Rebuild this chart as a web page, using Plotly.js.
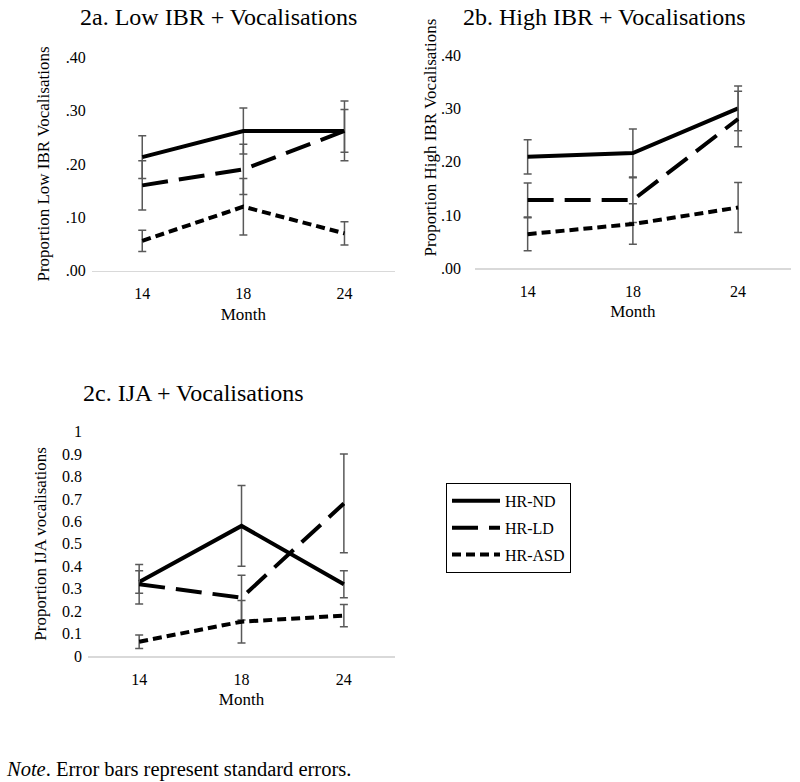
<!DOCTYPE html>
<html><head><meta charset="utf-8">
<script src="https://cdn.plot.ly/plotly-3.0.1.min.js"></script>
<style>html,body{margin:0;padding:0;background:#fff}#chart{width:800px;height:782px}</style>
</head><body><div id="chart"></div>
<script>
const months = ["14", "18", "24"];
const groups = ["HR-ND", "HR-LD", "HR-ASD"];

// 2a. Low IBR + Vocalisations
const lowND = [0.213, 0.262, 0.262];
const lowNDse = [0.040, 0.043, 0.040];
const lowLD = [0.160, 0.190, 0.262];
const lowLDse = [0.046, 0.047, 0.056];
const lowASD = [0.056, 0.120, 0.070];
const lowASDse = [0.020, 0.053, 0.022];

// 2b. High IBR + Vocalisations
const highND = [0.209, 0.216, 0.300];
const highNDse = [0.032, 0.045, 0.042];
const highLD = [0.128, 0.128, 0.280];
const highLDse = [0.032, 0.042, 0.052];
const highASD = [0.064, 0.083, 0.114];
const highASDse = [0.031, 0.038, 0.047];

// 2c. IJA + Vocalisations
const ijaND = [0.33, 0.58, 0.32];
const ijaNDse = [0.05, 0.18, 0.06];
const ijaLD = [0.32, 0.26, 0.68];
const ijaLDse = [0.088, 0.10, 0.22];
const ijaASD = [0.064, 0.153, 0.18];
const ijaASDse = [0.03, 0.095, 0.05];

const ticksLow = [0, 0.1, 0.2, 0.3, 0.4];
const ticksLowText = [".00", ".10", ".20", ".30", ".40"];
const ticksIja = [0, 0.1, 0.2, 0.3, 0.4, 0.5, 0.6, 0.7, 0.8, 0.9, 1];
const ticksIjaText = ["0", "0.1", "0.2", "0.3", "0.4", "0.5", "0.6", "0.7", "0.8", "0.9", "1"];

const FONT = "'Liberation Serif', 'Times New Roman', serif";
const dashes = ["solid", "26px,11px", "9px,5px"];

function series(name, idx, y, se, xa, ya, show) {
  return {
    type: "scatter", mode: "lines", name: name, x: months, y: y,
    xaxis: xa, yaxis: ya, showlegend: show, legendgroup: name,
    line: {color: "#000", width: 4, dash: dashes[idx]},
    error_y: {type: "data", array: se, visible: true, color: "#595959", thickness: 1.5, width: 4},
    hoverinfo: "skip"
  };
}

const data = [
  series(groups[0], 0, lowND, lowNDse, "x", "y", true),
  series(groups[1], 1, lowLD, lowLDse, "x", "y", true),
  series(groups[2], 2, lowASD, lowASDse, "x", "y", true),
  series(groups[0], 0, highND, highNDse, "x2", "y2", false),
  series(groups[1], 1, highLD, highLDse, "x2", "y2", false),
  series(groups[2], 2, highASD, highASDse, "x2", "y2", false),
  series(groups[0], 0, ijaND, ijaNDse, "x3", "y3", false),
  series(groups[1], 1, ijaLD, ijaLDse, "x3", "y3", false),
  series(groups[2], 2, ijaASD, ijaASDse, "x3", "y3", false)
];

function xax(domain, anchor) {
  return {
    domain: domain, anchor: anchor, type: "category", range: [-0.5, 2.5],
    showline: true, linecolor: "#d9d9d9", linewidth: 1.5, showgrid: false, zeroline: false,
    ticks: "", ticklabelstandoff: 8, tickfont: {family: FONT, size: 16, color: "#000"},
    title: {text: "Month", font: {family: FONT, size: 17, color: "#000"}, standoff: 6},
    automargin: false, fixedrange: true
  };
}
function yax(domain, anchor, range, tv, tt, title, standoff, lblStandoff) {
  return {
    domain: domain, anchor: anchor, range: range, tickvals: tv, ticktext: tt,
    showline: false, showgrid: false, zeroline: false, ticks: "",
    ticklabelstandoff: lblStandoff, tickfont: {family: FONT, size: 16, color: "#000"},
    title: {text: title, font: {family: FONT, size: 17, color: "#000"}, standoff: standoff},
    automargin: false, fixedrange: true
  };
}

const layout = {
  width: 800, height: 782,
  margin: {l: 0, r: 0, t: 0, b: 0},
  paper_bgcolor: "#fff", plot_bgcolor: "#fff",
  font: {family: FONT, color: "#000"},
  xaxis: xax([0.1146, 0.4938], "y"),
  yaxis: yax([0.6538, 0.9267], "x", [0, 0.4], ticksLow, ticksLowText, "Proportion Low IBR Vocalisations", 11, 5),
  xaxis2: xax([0.5938, 0.9884], "y2"),
  yaxis2: yax([0.6569, 0.9297], "x2", [0, 0.4], ticksLow, ticksLowText, "", 8, 13),
  xaxis3: xax([0.11, 0.4938], "y3"),
  yaxis3: yax([0.1611, 0.4480], "x3", [0, 1], ticksIja, ticksIjaText, "Proportion IJA vocalisations", 11, 5),
  showlegend: true,
  legend: {
    x: 0.5575, y: 0.3824, xanchor: "left", yanchor: "top",
    bordercolor: "#000", borderwidth: 1, bgcolor: "#fff",
    font: {family: FONT, size: 16, color: "#000"},
    itemwidth: 48, tracegroupgap: 3, itemclick: false, itemdoubleclick: false
  },
  annotations: [
    {text: "2a. Low IBR + Vocalisations", xref: "paper", yref: "paper", x: 0.2729, y: 0.9779,
     xanchor: "center", yanchor: "middle", showarrow: false, font: {family: FONT, size: 24, color: "#000"}},
    {text: "2b. High IBR + Vocalisations", xref: "paper", yref: "paper", x: 0.755, y: 0.9786,
     xanchor: "center", yanchor: "middle", showarrow: false, font: {family: FONT, size: 24, color: "#000"}},
    {text: "2c. IJA + Vocalisations", xref: "paper", yref: "paper", x: 0.2413, y: 0.4971,
     xanchor: "center", yanchor: "middle", showarrow: false, font: {family: FONT, size: 24, color: "#000"}},
    {text: "Proportion High IBR Vocalisations", xref: "paper", yref: "paper", x: 0.5375, y: 0.8242,
     xanchor: "center", yanchor: "middle", textangle: -90, showarrow: false, font: {family: FONT, size: 17, color: "#000"}},
    {text: "<i>Note</i>. Error bars represent standard errors.", xref: "paper", yref: "paper", x: 0.005, y: 0.0166,
     xanchor: "left", yanchor: "middle", showarrow: false, font: {family: FONT, size: 20.5, color: "#000"}}
  ]
};

Plotly.newPlot("chart", data, layout, {staticPlot: true, displayModeBar: false});
</script>
</body></html>
